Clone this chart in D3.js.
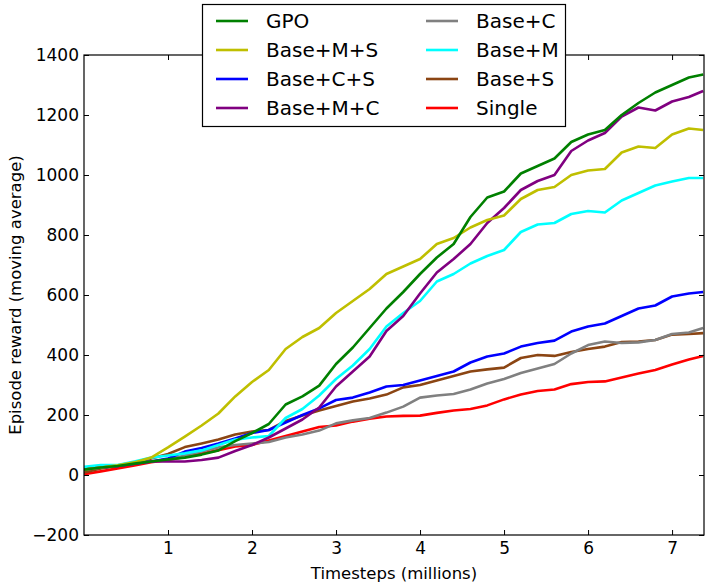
<!DOCTYPE html>
<html>
<head>
<meta charset="utf-8">
<script src="https://cdn.jsdelivr.net/npm/d3@7"></script>
<style>
  body { margin: 0; background: #fff; }
  svg { font-family: "DejaVu Sans", sans-serif; }
</style>
</head>
<body>
<div id="container"></div>
<script>
const timesteps = [0, 0.2, 0.4, 0.6, 0.8, 1.0, 1.2, 1.4, 1.6, 1.8, 2.0, 2.2, 2.4, 2.6, 2.8, 3.0, 3.2, 3.4, 3.6, 3.8,
  4.0, 4.2, 4.4, 4.6, 4.8, 5.0, 5.2, 5.4, 5.6, 5.8, 6.0, 6.2, 6.4, 6.6, 6.8, 7.0, 7.2, 7.37];

const gpo = [18, 25, 30, 38, 45, 52, 58, 68, 82, 113, 140, 170, 235, 262, 298, 370, 425, 490, 555, 610,
  670, 725, 770, 860, 925, 945, 1005, 1030, 1055, 1110, 1135, 1150, 1200, 1240, 1275, 1300, 1325, 1335];
const baseMS = [18, 25, 32, 42, 58, 92, 128, 165, 205, 262, 310, 350, 420, 460, 490, 540, 580, 620, 670, 695,
  720, 770, 790, 825, 850, 865, 920, 950, 960, 1000, 1015, 1020, 1075, 1095, 1090, 1135, 1155, 1150];
const baseCS = [20, 25, 30, 38, 45, 55, 78, 90, 105, 122, 140, 150, 175, 200, 222, 250, 258, 275, 295, 300,
  315, 330, 345, 375, 395, 405, 428, 440, 448, 478, 495, 505, 530, 555, 565, 595, 605, 610];
const baseMC = [18, 25, 30, 38, 45, 45, 45, 50, 58, 80, 100, 125, 155, 185, 225, 295, 345, 395, 480, 530,
  605, 675, 720, 770, 840, 890, 950, 980, 1000, 1080, 1115, 1140, 1195, 1225, 1215, 1245, 1260, 1280];
const baseC = [18, 25, 30, 38, 45, 52, 65, 78, 92, 100, 105, 110, 125, 135, 148, 172, 182, 190, 208, 228,
  258, 265, 270, 285, 305, 320, 340, 355, 370, 405, 433, 445, 440, 442, 450, 470, 475, 490];
const baseM = [27, 33, 33, 45, 58, 65, 72, 82, 100, 118, 125, 130, 190, 220, 265, 320, 365, 420, 495, 540,
  580, 645, 670, 705, 730, 750, 810, 835, 840, 870, 880, 875, 915, 940, 965, 978, 990, 990];
const baseS = [8, 22, 30, 40, 55, 70, 93, 105, 118, 135, 145, 150, 180, 198, 215, 230, 245, 255, 268, 292,
  300, 315, 330, 345, 352, 358, 390, 400, 397, 410, 420, 428, 443, 445, 450, 468, 470, 473];
const single = [3, 12, 22, 32, 43, 50, 60, 72, 83, 95, 100, 115, 130, 145, 160, 165, 178, 188, 195, 197,
  198, 207, 215, 220, 232, 252, 268, 280, 285, 303, 310, 312, 325, 338, 350, 368, 385, 397];

const seriesNames = ["GPO", "Base+M+S", "Base+C+S", "Base+M+C", "Base+C", "Base+M", "Base+S", "Single"];
const seriesValues = [gpo, baseMS, baseCS, baseMC, baseC, baseM, baseS, single];
const colors = ["#008000", "#bfbf00", "#0000ff", "#800080", "#808080", "#00ffff", "#8b4513", "#ff0000"];
// draw order (legend order stays as above)
const drawOrder = ["Single", "Base+S", "Base+C", "Base+C+S", "Base+M", "Base+M+C", "Base+M+S", "GPO"];

const xTicks = [1, 2, 3, 4, 5, 6, 7];
const yTicks = [-200, 0, 200, 400, 600, 800, 1000, 1200, 1400];

const width = 714, height = 583;
const margin = {top: 55, right: 10, bottom: 48, left: 84};

const svg = d3.select("#container").append("svg")
  .attr("width", width)
  .attr("height", height);

const x = d3.scaleLinear().domain([0, 7.38]).range([margin.left, width - margin.right]);
const y = d3.scaleLinear().domain([-200, 1400]).range([height - margin.bottom, margin.top]);

svg.append("defs").append("clipPath").attr("id", "plot")
  .append("rect")
  .attr("x", margin.left).attr("y", margin.top)
  .attr("width", x.range()[1] - margin.left)
  .attr("height", y.range()[0] - margin.top);

const line = d3.line()
  .x(d => x(d[0]))
  .y(d => y(d[1]));

const data = seriesNames.map((name, i) => ({
  name: name,
  color: colors[i],
  points: timesteps.map((t, j) => [t, seriesValues[i][j]])
}));

svg.append("g")
  .attr("clip-path", "url(#plot)")
  .selectAll("path")
  .data(drawOrder.map(n => data.find(d => d.name == n)))
  .join("path")
  .attr("d", d => line(d.points))
  .attr("fill", "none")
  .attr("stroke", d => d.color)
  .attr("stroke-width", 2.6)
  .attr("stroke-linejoin", "round");

// axes, ticks pointing inward
const fmt = d => d < 0 ? "\u2212" + Math.abs(d) : String(d);

const axisStyle = g => {
  g.select(".domain").remove();
  g.selectAll("line").attr("stroke", "#000");
  g.selectAll("text").attr("font-size", 17).attr("fill", "#000").attr("font-family", "DejaVu Sans");
};

svg.append("g")
  .attr("transform", `translate(0,${y(-200)})`)
  .call(d3.axisBottom(x).tickValues(xTicks).tickFormat(fmt).tickSize(-5).tickPadding(7))
  .call(axisStyle);

svg.append("g")
  .attr("transform", `translate(0,${y(1400)})`)
  .call(d3.axisTop(x).tickValues(xTicks).tickFormat("").tickSize(-5))
  .call(axisStyle);

svg.append("g")
  .attr("transform", `translate(${x(0)},0)`)
  .call(d3.axisLeft(y).tickValues(yTicks).tickFormat(fmt).tickSize(-5).tickPadding(5))
  .call(axisStyle);

svg.append("g")
  .attr("transform", `translate(${x.range()[1]},0)`)
  .call(d3.axisRight(y).tickValues(yTicks).tickFormat("").tickSize(-5))
  .call(axisStyle);

svg.append("rect")
  .attr("x", margin.left).attr("y", margin.top)
  .attr("width", x.range()[1] - margin.left)
  .attr("height", y.range()[0] - margin.top)
  .attr("fill", "none")
  .attr("stroke", "#000")
  .attr("stroke-width", 1.2);

svg.append("text")
  .attr("x", (margin.left + x.range()[1]) / 2)
  .attr("y", 579)
  .attr("text-anchor", "middle")
  .attr("font-size", 16.5)
  .text("Timesteps (millions)");

svg.append("text")
  .attr("transform", `translate(21,${(y(1400) + y(-200)) / 2}) rotate(-90)`)
  .attr("text-anchor", "middle")
  .attr("font-size", 16.5)
  .text("Episode reward (moving average)");

// legend
const legend = svg.append("g");
legend.append("rect")
  .attr("x", 202.5).attr("y", 4.5)
  .attr("width", 363).attr("height", 122)
  .attr("fill", "#fff")
  .attr("stroke", "#000")
  .attr("stroke-width", 1.2);

const item = legend.selectAll(".item")
  .data(data)
  .join("g")
  .attr("class", "item")
  .attr("transform", (d, i) => `translate(${i < 4 ? 216 : 426},${21 + (i % 4) * 29})`);

item.append("line")
  .attr("x1", 0).attr("x2", 32)
  .attr("stroke", d => d.color)
  .attr("stroke-width", 2.6);

item.append("text")
  .attr("x", 50)
  .attr("dy", "0.36em")
  .attr("font-size", 20)
  .text(d => d.name);
</script>
</body>
</html>
